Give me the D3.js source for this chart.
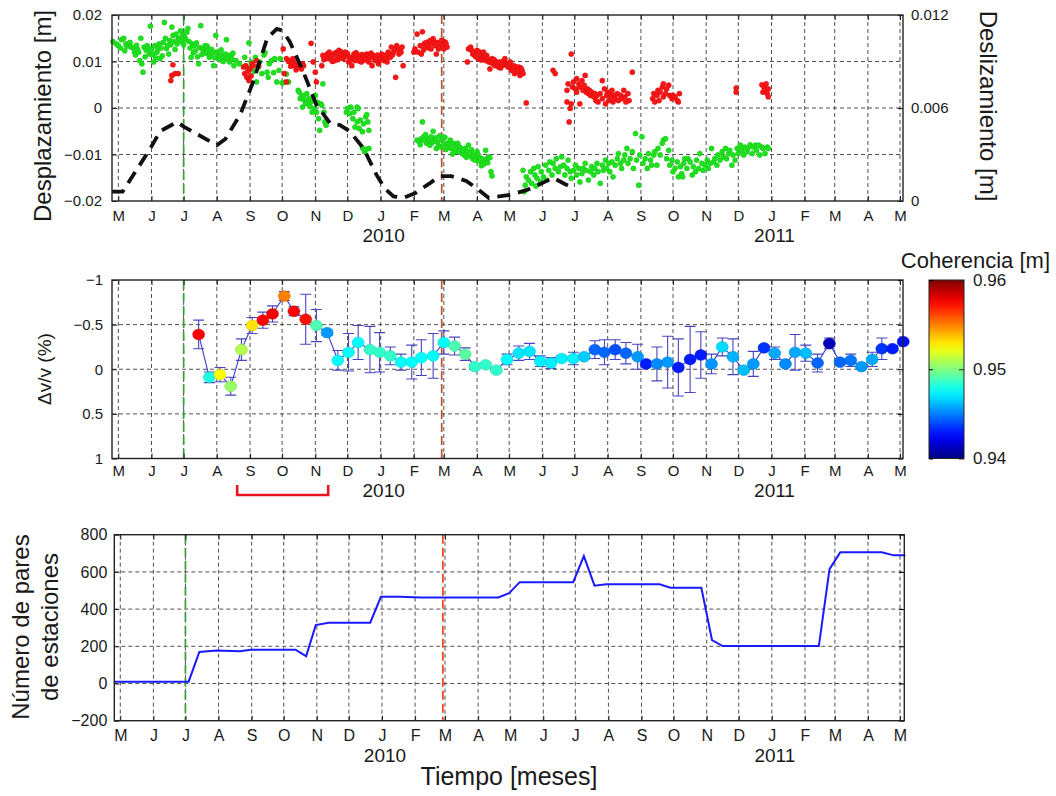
<!DOCTYPE html>
<html><head><meta charset="utf-8">
<script src="https://cdn.jsdelivr.net/npm/d3@7"></script>
<style>
body{margin:0;background:#fff;}
svg text{font-family:"Liberation Sans",Arial,Helvetica,sans-serif;fill:#1a1a1a;}
</style></head><body>
<svg id="fig" width="1056" height="796" xmlns="http://www.w3.org/2000/svg"></svg>
<script>
// ---------- data (time in days counted from 1 May 2009) ----------
const dayZero = Date.UTC(2009, 4, 1);
const monthInitials = ["J","F","M","A","M","J","J","A","S","O","N","D"];
const yearLabels = ["2010", "2011"];
const eventDays = [61, 302];          // 1 Jul 2009, 27 Feb 2010
const bracketDays = [111, 196];       // highlighted interval below the Δv/v panel

const dispTicks = [-0.02, -0.01, 0, 0.01, 0.02];
const slipTicks = [0, 0.006, 0.012];
const dvvTicks = [-1, -0.5, 0, 0.5, 1];
const pairTicks = [-200, 0, 200, 400, 600, 800];
const cohTicks = [0.94, 0.95, 0.96];

// displacement series, [day, mm]
const dispGreen = [
[-5,14.3],[-2,13.8],[0,13.4],[2,12.9],[3,14.7],[5,15.0],[6,12.3],[7,13.8],[8,13.3],[10,13.9],[11,14.1],[12,13.1],[14,13.0],[15,12.1],[16,11.4],[17,13.5],[18,12.6],[19,12.0],[20,10.2],[21,15.0],[22,9.5],[23,7.7],[24,13.1],[25,11.0],[26,12.4],[27,13.4],[28,12.9],[29,11.6],[30,17.6],[31,12.6],[32,11.5],[33,9.9],[34,13.4],[35,10.8],[36,12.0],[37,12.7],[38,13.8],[39,10.6],[40,12.9],[41,11.2],[42,14.1],[43,18.4],[44,15.0],[45,12.8],[46,13.4],[47,11.6],[48,14.5],[49,13.6],[50,17.4],[51,15.6],[52,14.3],[53,12.6],[54,15.9],[55,13.8],[56,15.0],[57,14.7],[58,16.6],[59,14.3],[60,15.6],[61,13.6],[62,15.2],[63,14.7],[64,16.3],[65,17.1],[66,14.3],[67,12.9],[68,10.9],[69,13.8],[70,11.9],[71,13.4],[72,12.3],[73,14.0],[74,11.0],[75,9.5],[76,13.0],[77,17.7],[78,11.5],[79,12.6],[80,12.2],[81,13.4],[82,11.8],[83,13.3],[84,12.4],[85,10.9],[86,11.5],[87,12.6],[88,11.9],[89,9.1],[90,10.8],[91,15.6],[92,12.1],[93,11.3],[94,10.9],[95,10.4],[96,12.5],[97,11.4],[98,10.0],[99,10.9],[100,11.6],[101,14.7],[102,10.5],[103,11.3],[104,9.9],[105,11.1],[106,10.6],[107,11.8],[108,9.1],[110,10.2],[113,9.5],
[118,10.9],[120,8.8],[122,14.0],[124,9.9],[126,9.1],[127,7.9],[128,10.9],[129,5.6],[131,8.8],[132,9.9],[134,7.4],[136,11.4],[137,11.9],[139,7.7],[140,6.6],[141,9.5],[143,10.2],[145,7.6],[146,10.6],[148,5.6],[150,8.1],[151,10.6],[153,5.4],[155,5.5],[157,7.3],[159,5.6],
[168,3.8],[169,3.4],[170,2.0],[171,2.4],[172,0.2],[173,2.7],[174,1.6],[175,1.0],[176,3.1],[177,0.9],[178,2.1],[179,0.3],[180,1.3],[181,-0.9],[182,1.9],[183,-0.1],[184,2.7],[185,-0.9],[186,1.2],[187,-2.3],[188,-4.8],[189,0.9],[190,0.6],[191,5.2],[192,-0.9],[193,-3.0],[194,-3.7],
[213,-0.9],[214,-0.1],[216,-1.2],[217,0.2],[219,-2.3],[220,-0.9],[221,-4.1],[223,0.2],[224,-0.1],[223,-3.0],[225,-4.4],[226,-2.6],[228,-5.1],[229,-3.4],[231,-1.9],[232,-1.4],[233,-3.0],[234,-4.8],[228,-8.6],[230,-9.4],[231,-8.9],[234,-8.7],
[279,-6.9],[281,-7.3],[282,-7.9],[283,-6.6],[284,-3.0],[285,-6.2],[286,-7.0],[287,-5.7],[288,-7.6],[289,-6.9],[290,-6.6],[291,-8.0],[292,-6.2],[293,-7.4],[294,-5.0],[295,-7.1],[296,-6.4],[297,-8.7],[298,-7.3],[299,-8.1],[300,-6.0],[301,-8.4],[302,-6.9],[303,-6.6],[304,-7.9],[305,-6.3],[306,-8.9],[307,-7.6],[308,-8.4],[309,-7.7],[310,-6.9],[311,-8.7],[312,-9.9],[313,-7.6],[314,-9.4],[315,-8.7],[316,-8.0],[317,-7.6],[318,-9.3],[319,-8.4],[320,-8.9],[321,-9.8],[322,-9.1],[323,-10.1],[324,-8.7],[325,-10.6],[326,-9.4],[327,-8.0],[328,-10.3],[329,-9.8],[330,-9.0],[331,-10.9],[332,-10.1],[333,-11.2],[334,-10.5],[335,-9.4],[336,-10.0],[337,-11.4],[338,-10.7],[339,-12.4],[340,-11.0],[341,-12.1],[342,-11.6],[343,-9.1],[344,-10.9],[345,-11.8],[346,-10.5],[347,-10.7],[348,-13.7],[349,-14.6],
[378,-13.4],[379,-18.0],[380,-16.6],[381,-14.8],[383,-15.5],[385,-13.7],[386,-16.2],[388,-13.0],[389,-14.4],[390,-16.8],[391,-15.1],[392,-12.6],[394,-15.9],[395,-13.7],[397,-14.8],[399,-12.3],[400,-15.5],[402,-13.4],[403,-11.6],[405,-14.4],[406,-11.9],[408,-13.0],[409,-10.9],[411,-13.7],[413,-12.6],[414,-10.5],[416,-12.3],[417,-14.4],[419,-13.0],[420,-11.2],[422,-13.7],[423,-15.1],[425,-13.4],[427,-12.3],[428,-14.4],[430,-13.0],[431,-15.9],[433,-14.1],[434,-13.0],[436,-11.9],[437,-13.4],[439,-15.5],[441,-13.7],[442,-12.6],[444,-14.4],[445,-13.0],[447,-11.9],[448,-13.7],[450,-16.2],[452,-12.3],[453,-13.4],[455,-11.2],[456,-13.0],[458,-11.9],[459,-13.7],[461,-11.6],[462,-14.8],[464,-12.3],[466,-10.9],[467,-9.8],[469,-11.9],[470,-13.0],[472,-11.2],[473,-10.1],[475,-8.7],[476,-11.9],[478,-10.9],[480,-9.4],[481,-13.0],[483,-5.5],[484,-11.2],[486,-16.6],[487,-10.1],[489,-6.2],[490,-11.9],[492,-10.9],[494,-13.0],[495,-9.8],[497,-11.2],[498,-12.3],[500,-10.1],[501,-9.4],[503,-12.3],[504,-8.7],[506,-10.1],[508,-7.6],[509,-6.9],[511,-6.6],[512,-10.9],[514,-9.1],[515,-12.3],[517,-11.2],[518,-13.7],[520,-13.0],[522,-11.6],[523,-14.8],[525,-12.6],[526,-14.1],[527,-14.8],[528,-11.9],[529,-10.9],[531,-13.0],[532,-10.9],[534,-11.6],[536,-14.4],[537,-12.6],[539,-13.7],[540,-11.2],[542,-13.0],[543,-9.8],[545,-11.9],[546,-13.4],[548,-12.3],[550,-11.2],[551,-13.0],[553,-11.9],[554,-8.7],[556,-11.6],[557,-10.9],[559,-12.3],[560,-10.1],[562,-11.2],[564,-9.4],[565,-10.5],[567,-8.7],[568,-10.9],[570,-9.8],[571,-9.1],[573,-12.3],[574,-10.1],[576,-11.2],[578,-8.7],[579,-9.8],[581,-8.0],[582,-9.1],[584,-10.1],[585,-8.4],[587,-9.4],[588,-8.7],[590,-7.9],[592,-9.8],[593,-8.4],[595,-8.0],[596,-9.1],[598,-8.0],[599,-10.1],[601,-8.4],[602,-8.7],[604,-9.8],[606,-8.4],[607,-8.7]
];
const dispRed = [
[49,5.9],[50,7.0],[51,9.3],[53,7.4],[56,7.4],
[117,8.8],[118,7.4],[119,9.1],[120,6.6],[121,7.9],[122,5.9],[122,6.6],[123,8.4],[124,6.9],[125,9.5],[126,9.1],[129,10.2],[131,9.1],
[154,12.7],[155,7.4],[157,5.6],[157,10.6],[159,10.0],[160,10.2],[161,9.0],[162,9.9],[163,10.6],[164,9.5],[165,9.1],[166,8.2],[167,9.9],[168,8.8],[169,9.3],[170,9.1],[171,8.4],[172,9.5],[173,9.1],[180,13.9],[182,9.9],[184,7.7],[185,5.6],
[190,9.1],[191,11.3],[192,10.4],[193,10.9],[195,11.6],[196,10.6],[197,12.0],[198,11.3],[199,10.9],[200,10.0],[201,11.6],[202,10.2],[203,11.9],[204,11.3],[205,10.4],[206,12.4],[207,10.9],[208,12.1],[209,11.4],[210,10.6],[211,11.0],[212,12.0],[213,11.3],[214,11.7],[215,9.9],[216,10.9],[217,10.3],[218,9.1],[219,10.8],[220,11.6],[221,10.2],[222,11.9],[223,11.3],[224,10.6],[225,10.1],[226,11.4],[227,9.9],[228,11.5],[229,10.9],[230,10.6],[231,10.3],[232,11.6],[233,11.2],[234,9.9],[235,10.9],[236,11.8],[237,9.1],[238,11.3],[239,10.7],[240,10.2],[241,10.9],[242,11.4],[243,9.5],[244,10.3],[245,10.6],[246,11.6],[247,11.0],[248,10.2],[249,11.3],[250,10.6],[251,9.9],[252,12.0],[253,11.6],[254,10.9],[255,13.1],[256,11.4],[257,12.0],[258,12.6],[259,6.6],[260,13.4],[261,12.7],[262,11.6],[263,12.4],[264,12.0],[265,13.1],[266,9.1],
[276,12.0],[277,12.7],[279,15.9],[280,12.0],[282,13.4],[283,11.6],[284,16.4],[285,12.5],[286,13.9],[287,13.1],[288,14.1],[289,13.4],[290,12.9],[291,14.5],[292,12.7],[293,13.9],[294,14.9],[295,14.0],[296,13.4],[297,11.6],[298,14.1],[299,12.7],[300,13.0],[301,13.9],[302,14.6],[303,13.4],[304,12.7],[305,14.2],[306,13.9],[307,13.1],
[326,9.9],[327,12.7],[329,13.1],[330,12.4],[331,11.6],[332,12.0],[333,11.3],[334,11.0],[335,12.4],[336,10.6],[337,12.1],[338,11.6],[339,10.3],[340,10.9],[341,12.0],[342,11.0],[343,10.2],[344,11.3],[345,10.5],[346,9.9],[347,8.4],[348,9.8],[349,10.6],[350,9.5],[351,10.4],[352,9.1],[353,9.9],[354,9.3],[355,8.8],[356,9.9],[357,8.6],[358,9.1],[359,9.6],[360,10.2],[361,10.6],[362,9.2],[363,9.5],[364,8.8],[365,9.4],[366,9.9],[367,8.1],[368,8.7],[369,9.1],[370,7.4],[371,8.9],[372,8.4],[373,7.9],[374,8.8],[375,7.0],[376,8.6],[377,8.1],[378,7.4],[381,1.1],
[406,8.1],[408,7.4],
[419,3.8],[419,1.3],[420,5.2],[421,-3.0],[422,-0.1],[423,11.6],[423,0.9],[424,4.5],[425,5.6],[427,4.1],[428,6.3],[428,3.4],[430,5.2],[431,0.9],[431,4.5],[433,5.9],[434,3.8],[435,4.9],[436,7.0],[437,3.4],[438,4.1],[439,3.1],[440,3.8],[441,2.7],[442,3.4],[444,2.4],[445,3.1],[446,1.6],[447,2.7],[448,1.3],[450,3.1],[452,5.9],[452,2.0],[454,4.1],[455,0.9],[456,2.7],[457,3.4],[458,1.6],[459,3.1],[460,2.4],[461,3.8],[462,1.3],[463,2.7],[464,2.0],[466,3.1],[467,1.6],[469,2.7],[470,2.0],[472,3.8],[473,2.4],[474,1.3],[476,3.1],[477,1.6],[480,7.7],
[499,2.0],[500,3.1],[501,1.3],[503,2.7],[504,3.8],[505,1.6],[506,3.4],[508,4.5],[509,5.2],[509,2.4],[511,3.1],[512,4.1],[514,4.9],[515,2.7],[517,2.0],[518,2.7],[520,2.4],[522,1.6],[523,1.3],[524,3.1],
[577,3.4],[577,4.3],[601,5.0],[602,3.4],[603,4.5],[604,3.8],[605,5.2],[606,3.1],[607,2.4],[607,4.1]
];

// slip (deslizamiento), m
const slipDays = [-6,4,30,39,55,61,92,100,114,126,139,148,153,160,173,185,198,207,216,229,241,249,257,266,277,290,300,311,325,335,346,366,381,394,406,417,423];
const slipValues = [0.0006,0.0006,0.0034,0.0045,0.0051,0.0048,0.0036,0.0040,0.0056,0.0077,0.0105,0.0111,0.0110,0.0103,0.0083,0.0062,0.0050,0.0049,0.0045,0.0034,0.0017,0.0008,0.0003,0.0002,0.0005,0.0011,0.0016,0.0016,0.0013,0.0008,0.0002,0.0004,0.0007,0.0011,0.0015,0.0011,0.0009];

// velocity change Δv/v (%), its uncertainty and coherence
const dvvDays = [75,85,95,105,115,125,135,144,155,164,175,185,195,205,215,224,235,244,254,264,274,283,294,304,314,324,333,343,353,363,374,384,394,404,414,425,435,445,454,464,474,485,493,503,513,523,534,544,554,564,574,584,593,603,613,623,632,642,653,664,674,684,694,704,713,723,733];
const dvvValues = [-0.39,0.09,0.06,0.19,-0.22,-0.49,-0.55,-0.62,-0.82,-0.65,-0.56,-0.49,-0.41,-0.10,-0.19,-0.30,-0.22,-0.19,-0.15,-0.08,-0.08,-0.13,-0.15,-0.30,-0.26,-0.17,-0.03,-0.05,0.01,-0.11,-0.18,-0.20,-0.09,-0.07,-0.12,-0.12,-0.14,-0.22,-0.19,-0.22,-0.18,-0.14,-0.06,-0.06,-0.08,-0.02,-0.11,-0.16,-0.06,-0.25,-0.14,0.01,-0.06,-0.24,-0.18,-0.06,-0.19,-0.18,-0.07,-0.29,-0.08,-0.10,-0.03,-0.11,-0.23,-0.23,-0.31];
const dvvErrors = [0.16,0.06,0.08,0.10,0.12,0.09,0.09,0.09,0.05,0.05,0.28,0.18,0.03,0.11,0.21,0.19,0.26,0.22,0.10,0.09,0.19,0.20,0.25,0.13,0.10,0.07,0.02,0.02,0.02,0.06,0.08,0.09,0.06,0.06,0.03,0.07,0.03,0.10,0.14,0.11,0.12,0.14,0.02,0.19,0.29,0.32,0.37,0.26,0.11,0.10,0.20,0.02,0.14,0.02,0.07,0.02,0.20,0.09,0.10,0.06,0.02,0.07,0.02,0.08,0.12,0.02,0.02];
const dvvCoherence = [0.9575,0.948,0.9525,0.9505,0.951,0.953,0.9575,0.9578,0.955,0.9575,0.9572,0.949,0.9455,0.9475,0.9475,0.9475,0.9485,0.9485,0.9485,0.9475,0.9475,0.9475,0.9475,0.9475,0.949,0.9493,0.9485,0.9485,0.9485,0.9475,0.947,0.947,0.9472,0.9472,0.9472,0.9472,0.9465,0.9445,0.9445,0.944,0.9445,0.9455,0.943,0.9452,0.9455,0.943,0.943,0.943,0.9455,0.9468,0.946,0.9462,0.9455,0.9435,0.9458,0.9452,0.9458,0.9462,0.9445,0.9412,0.9445,0.9448,0.9455,0.9458,0.9435,0.943,0.9428];

// number of station pairs
const pairDays = [-6,64,74,90,112,122,164,174,183,195,234,244,262,281,354,364,374,424,434,444,455,505,515,544,554,564,654,664,674,713,724,735];
const pairCounts = [10,10,170,178,174,182,182,147,314,327,327,466,466,463,463,486,545,545,685,526,533,533,515,515,233,201,201,615,705,705,689,689];

// ---------- helpers ----------
const dt = d => new Date(dayZero + d * 864e5);
const fmt = v => v === 0 ? "0" : d3.format("")(v);
const svg = d3.select("#fig");
const INK = "#222";

function jet(t) {
  const c = v => Math.max(0, Math.min(1, v));
  return d3.rgb(255 * c(1.5 - Math.abs(4 * t - 3)), 255 * c(1.5 - Math.abs(4 * t - 2)), 255 * c(1.5 - Math.abs(4 * t - 1))).formatHex();
}
const cohColor = d3.scaleSequential(jet).domain([cohTicks[0], cohTicks[2]]);

function grid(x, y, yGrid, box) {
  const g = svg.append("g");
  g.selectAll(null).data(d3.utcMonth.range(x.domain()[0], x.domain()[1])).join("line")
    .attr("x1", d => x(d)).attr("x2", d => x(d)).attr("y1", box.top).attr("y2", box.bottom)
    .attr("stroke", "#333").attr("stroke-width", 0.85).attr("stroke-dasharray", "4,3");
  g.selectAll(null).data(yGrid).join("line")
    .attr("x1", box.left).attr("x2", box.right).attr("y1", d => y(d)).attr("y2", d => y(d))
    .attr("stroke", "#333").attr("stroke-width", 0.85).attr("stroke-dasharray", "4,3");
}

function events(x, box, redColor) {
  svg.append("g").selectAll(null).data(eventDays).join("line")
    .attr("x1", d => x(dt(d))).attr("x2", d => x(dt(d))).attr("y1", box.top).attr("y2", box.bottom)
    .attr("stroke", (d, i) => i === 0 ? "#3a9e3a" : redColor)
    .attr("stroke-width", 1.7).attr("stroke-dasharray", "9,4");
}

function monthAxes(x, box, baseline, size) {
  const bot = svg.append("g").attr("transform", `translate(0,${box.bottom})`)
    .call(d3.axisBottom(x).ticks(d3.utcMonth.every(1)).tickFormat(d => monthInitials[d.getUTCMonth()])
      .tickSizeInner(-5).tickSizeOuter(0));
  bot.select(".domain").remove();
  bot.selectAll(".tick line").attr("stroke", INK);
  bot.selectAll(".tick text").attr("y", baseline - box.bottom).attr("dy", null).style("font-size", size + "px");
  const top = svg.append("g").attr("transform", `translate(0,${box.top})`)
    .call(d3.axisTop(x).ticks(d3.utcMonth.every(1)).tickFormat("").tickSizeInner(-5).tickSizeOuter(0));
  top.select(".domain").remove();
  top.selectAll(".tick line").attr("stroke", INK);
  svg.append("g").selectAll(null).data(yearLabels).join("text")
    .attr("x", d => x(new Date(Date.UTC(+d, 0, 1))) + 3)
    .attr("y", baseline + 21).attr("text-anchor", "middle").style("font-size", "19px").text(d => d);
}

function yAxis(axis, xPos, size, pad) {
  const g = svg.append("g").attr("transform", `translate(${xPos},0)`)
    .call(axis.tickFormat(fmt).tickSizeInner(-5).tickSizeOuter(0).tickPadding(pad));
  g.select(".domain").remove();
  g.selectAll(".tick line").attr("stroke", INK);
  g.selectAll(".tick text").style("font-size", size + "px");
  return g;
}

function frame(box) {
  svg.append("rect").attr("x", box.left).attr("y", box.top)
    .attr("width", box.right - box.left).attr("height", box.bottom - box.top)
    .attr("fill", "none").attr("stroke", INK).attr("stroke-width", 1.4);
}

function rotLabel(lines, x, y, angle, size, lineGap) {
  const t = svg.append("text").attr("transform", `translate(${x},${y}) rotate(${angle})`)
    .attr("text-anchor", "middle").style("font-size", size + "px");
  lines.forEach((s, i) => t.append("tspan").attr("x", 0).attr("y", i * lineGap).text(s));
}

// ---------- panel 1: displacement & slip ----------
const box1 = {left: 112, right: 903, top: 15, bottom: 201};
const x1 = d3.scaleUtc().domain([dt(-5.9), dt(732.8)]).range([box1.left, box1.right]);
const yDisp = d3.scaleLinear().domain([-0.02, 0.02]).range([box1.bottom, box1.top]);
const ySlip = d3.scaleLinear().domain([0, 0.012]).range([box1.bottom, box1.top]);

grid(x1, yDisp, [-0.01, 0, 0.01], box1);
events(x1, box1, "#c0502f");

svg.append("g").selectAll(null).data(dispGreen).join("circle")
  .attr("cx", d => x1(dt(d[0]))).attr("cy", d => yDisp(d[1] / 1000)).attr("r", 2.6)
  .attr("fill", "#1fe01f").attr("stroke", "#12c012").attr("stroke-width", 0.4);
svg.append("g").selectAll(null).data(dispRed).join("circle")
  .attr("cx", d => x1(dt(d[0]))).attr("cy", d => yDisp(d[1] / 1000)).attr("r", 2.6)
  .attr("fill", "#f41818").attr("stroke", "#d00").attr("stroke-width", 0.4);

svg.append("path").datum(slipDays.map((d, i) => [d, slipValues[i]]))
  .attr("d", d3.line().x(d => x1(dt(d[0]))).y(d => ySlip(d[1])))
  .attr("fill", "none").attr("stroke", "#111").attr("stroke-width", 3.8)
  .attr("stroke-dasharray", "13,8");

monthAxes(x1, box1, 221, 15);
yAxis(d3.axisLeft(yDisp).tickValues(dispTicks), box1.left, 15, 10);
yAxis(d3.axisRight(ySlip).tickValues(slipTicks), box1.right, 15, 8);
frame(box1);
rotLabel(["Desplazamiento [m]"], 51, 116, -90, 24, 0);
rotLabel(["Deslizamiento [m]"], 980, 106, 90, 24, 0);

// ---------- panel 2: Δv/v coloured by coherence ----------
const box2 = {left: 112, right: 903, top: 280, bottom: 458.5};
const x2 = x1.copy();
const yDvv = d3.scaleLinear().domain([-1, 1]).range([box2.top, box2.bottom]);

grid(x2, yDvv, [-0.5, 0, 0.5], box2);
events(x2, box2, "#c0502f");

const dvv = dvvDays.map((d, i) => ({day: d, v: dvvValues[i], e: dvvErrors[i], c: dvvCoherence[i]}));
svg.append("path").datum(dvv)
  .attr("d", d3.line().x(d => x2(dt(d.day))).y(d => yDvv(d.v)))
  .attr("fill", "none").attr("stroke", "#3b3bd0").attr("stroke-width", 1.1);
const eb = svg.append("g").attr("stroke", "#4646c4").attr("stroke-width", 1.1).attr("fill", "none");
eb.selectAll(null).data(dvv).join("path")
  .attr("d", d => {
    const x = x2(dt(d.day)), y0 = yDvv(d.v - d.e), y1 = yDvv(d.v + d.e);
    return `M${x},${y0}V${y1}M${x - 5.5},${y0}H${x + 5.5}M${x - 5.5},${y1}H${x + 5.5}`;
  });
svg.append("g").selectAll(null).data(dvv).join("ellipse")
  .attr("cx", d => x2(dt(d.day))).attr("cy", d => yDvv(d.v)).attr("rx", 6).attr("ry", 5.4)
  .attr("fill", d => cohColor(d.c)).attr("stroke", d => d3.color(cohColor(d.c)).darker(0.6)).attr("stroke-width", 0.5);

monthAxes(x2, box2, 476, 15);
yAxis(d3.axisLeft(yDvv).tickValues(dvvTicks), box2.left, 15, 9);
svg.append("g").attr("transform", `translate(${box2.right},0)`)
  .call(d3.axisRight(yDvv).tickValues(dvvTicks).tickFormat("").tickSizeInner(-5).tickSizeOuter(0))
  .call(g => g.select(".domain").remove());
frame(box2);
rotLabel(["Δv/v (%)"], 51, 369, -90, 19, 0);

svg.append("path")
  .attr("d", `M${x2(dt(bracketDays[0]))},485V495H${x2(dt(bracketDays[1]))}V485`)
  .attr("fill", "none").attr("stroke", "#e8141e").attr("stroke-width", 2.6);

// colour bar
const cb = {left: 929, right: 964, top: 280, bottom: 458.5};
const grad = svg.append("defs").append("linearGradient").attr("id", "jetbar")
  .attr("x1", 0).attr("y1", 1).attr("x2", 0).attr("y2", 0);
d3.range(0, 1.0001, 0.05).forEach(t => grad.append("stop").attr("offset", t).attr("stop-color", jet(t)));
svg.append("rect").attr("x", cb.left).attr("y", cb.top).attr("width", cb.right - cb.left)
  .attr("height", cb.bottom - cb.top).attr("fill", "url(#jetbar)").attr("stroke", INK).attr("stroke-width", 1);
const yCoh = d3.scaleLinear().domain([cohTicks[0], cohTicks[2]]).range([cb.bottom, cb.top]);
yAxis(d3.axisRight(yCoh).tickValues(cohTicks), cb.right, 17, 9);
svg.append("g").attr("transform", `translate(${cb.left},0)`)
  .call(d3.axisLeft(yCoh).tickValues(cohTicks).tickFormat("").tickSizeInner(-4).tickSizeOuter(0))
  .call(g => g.select(".domain").remove());
svg.append("text").attr("x", 1050).attr("y", 268).attr("text-anchor", "end")
  .style("font-size", "22px").text("Coherencia [m]");

// ---------- panel 3: number of station pairs ----------
const box3 = {left: 114.3, right: 904.3, top: 534.7, bottom: 720.7};
const x3 = d3.scaleUtc().domain([dt(-5.6), dt(734)]).range([box3.left, box3.right]);
const yPairs = d3.scaleLinear().domain([-200, 800]).range([box3.bottom, box3.top]);

grid(x3, yPairs, [0, 200, 400, 600], box3);
events(x3, box3, "#f2421e");

svg.append("path").datum(pairDays.map((d, i) => [d, pairCounts[i]]))
  .attr("d", d3.line().x(d => x3(dt(d[0]))).y(d => yPairs(d[1])))
  .attr("fill", "none").attr("stroke", "#1a1aff").attr("stroke-width", 2);

monthAxes(x3, box3, 741, 16);
yAxis(d3.axisLeft(yPairs).tickValues(pairTicks), box3.left, 16, 7);
svg.append("g").attr("transform", `translate(${box3.right},0)`)
  .call(d3.axisRight(yPairs).tickValues(pairTicks).tickFormat("").tickSizeInner(-5).tickSizeOuter(0))
  .call(g => g.select(".domain").remove());
frame(box3);
rotLabel(["Número de pares", "de estaciones"], 29, 627, -90, 24, 29);

svg.append("text").attr("x", 509).attr("y", 785).attr("text-anchor", "middle")
  .style("font-size", "25px").text("Tiempo [meses]");
</script>
</body></html>
